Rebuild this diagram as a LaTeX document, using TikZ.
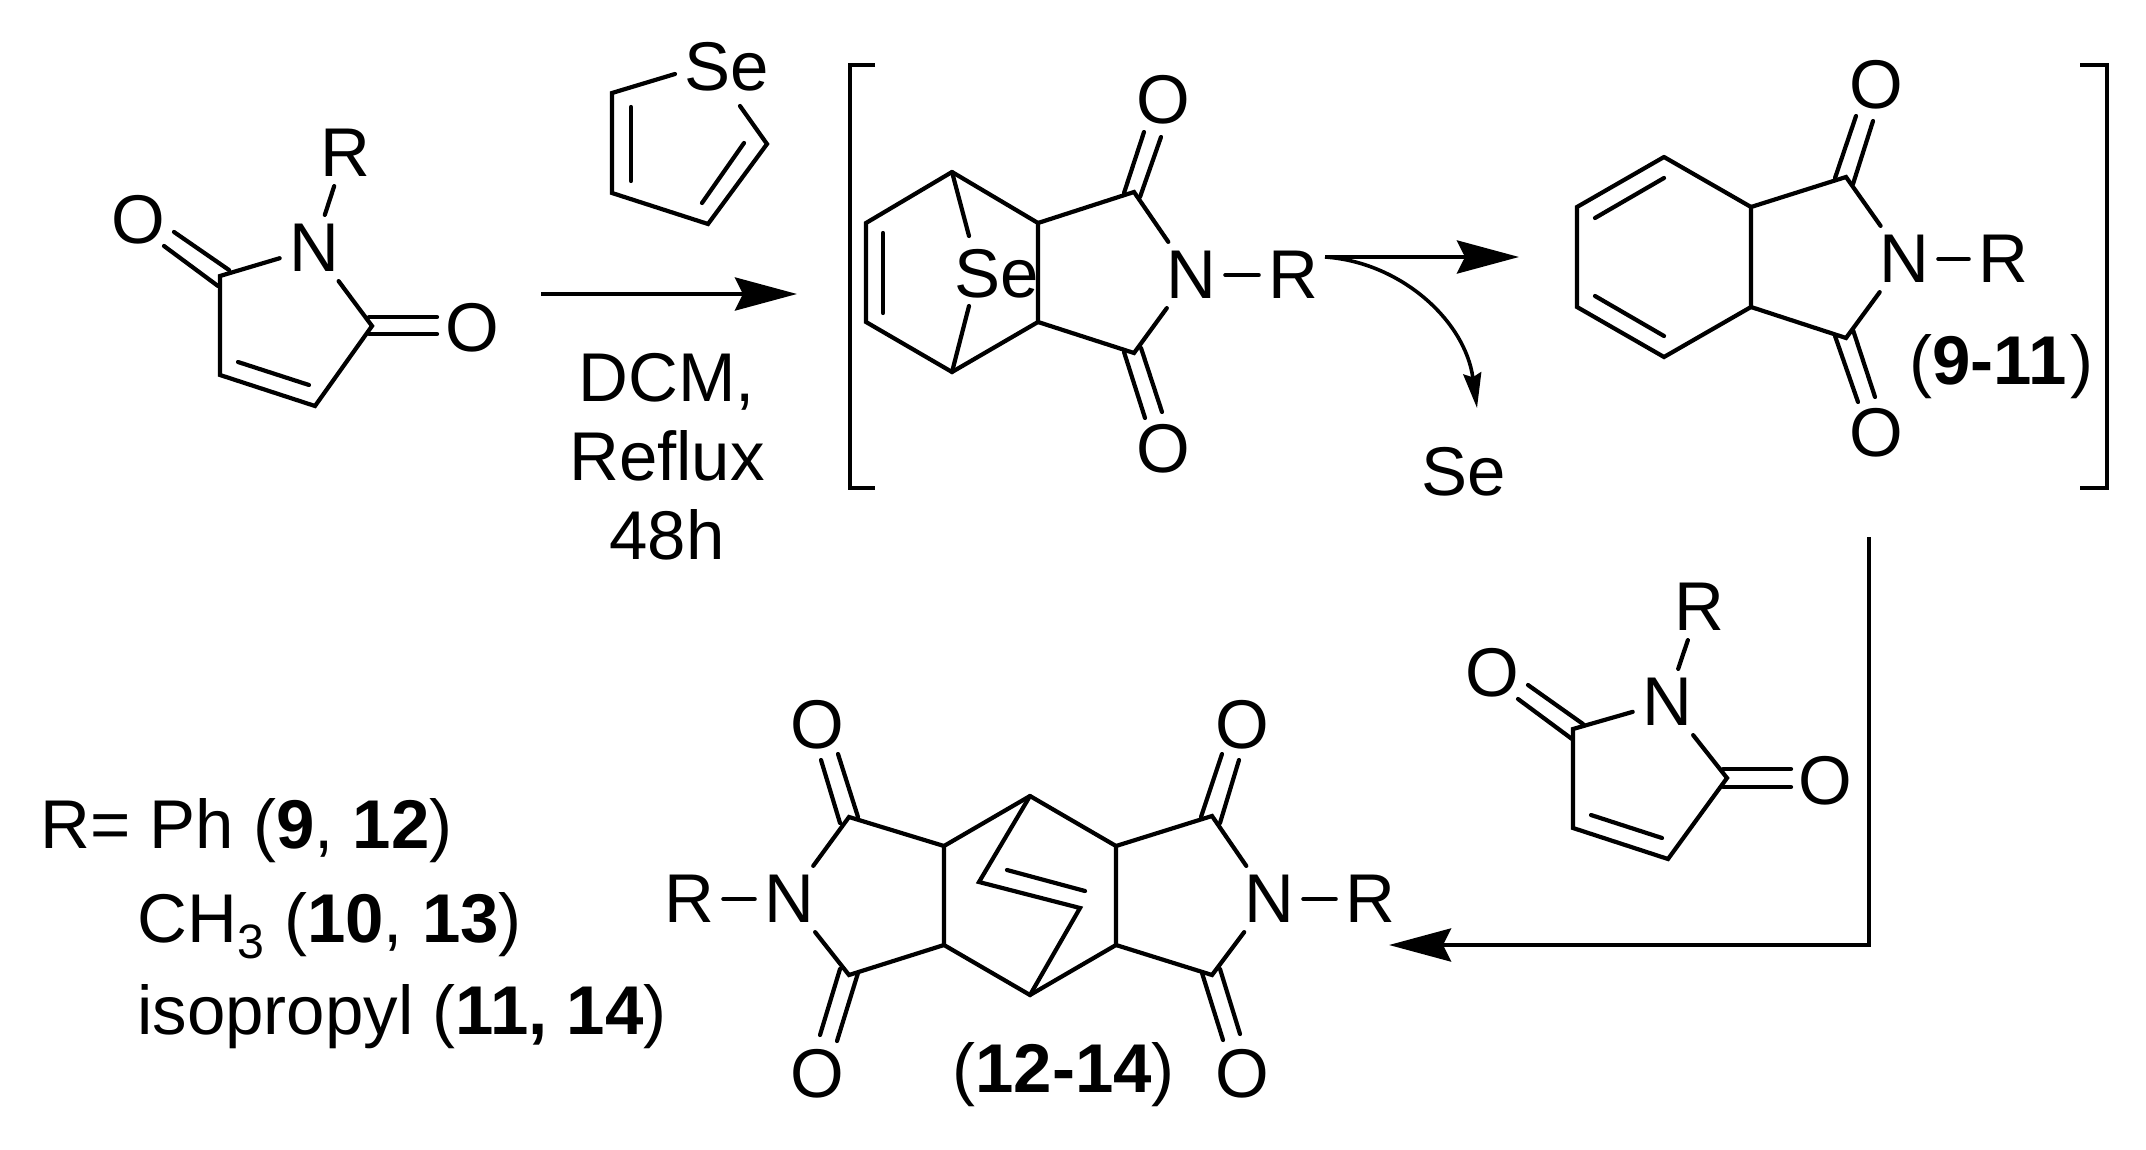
\documentclass[tikz,border=0pt]{standalone}
\usepackage{fontspec}
\setmainfont{Liberation Sans}
\usepackage{tikz}
\usetikzlibrary{arrows.meta,positioning,calc}

\tikzset{
atom/.style={inner sep=4.5pt,font=\fontsize{34.5}{38}\selectfont},
caption/.style={inner sep=0pt,anchor=base west,font=\fontsize{34.5}{38}\selectfont},
bond/.style={line width=2.1pt,line cap=round,line join=miter},
bracket/.style={line width=2.1pt,line join=miter},
bigarrow/.style={line width=2.2pt,-{Stealth[length=31pt,width=16.5pt,inset=4pt]}},
smallarrow/.style={line width=1.8pt,-{Stealth[length=17.5pt,width=9pt,inset=2pt]}}
}
% one line of a double bond, with its two ends named
\newcommand{\inner}[3]{\coordinate (#1a) at (#2); \coordinate (#1b) at (#3); \draw[bond] (#1a) -- (#1b);}

\begin{document}
\begin{tikzpicture}[x=0.5pt,y=-0.5pt]
\useasboundingbox (0,0) rectangle (2146,1150);

% maleimide, top left
\node[atom] (n1) at (314,248) {N};
\node[atom] (r1) at (345,153) {R};
\node[atom] (o1) at (138,220) {O};
\node[atom] (o2) at (472,328) {O};
\coordinate (c1) at (220,276);
\coordinate (c2) at (372,326);
\coordinate (c3) at (315,406);
\coordinate (c4) at (220,375);
\draw[bond] (n1) -- (c1) -- (c4) -- (c3) -- (c2) -- (n1);
\draw[bond] (n1) -- (r1);
\inner{d1}{238,362}{309,385}
\inner{d2}{174,232}{229,270}
\inner{d3}{164,246}{218,286}
\inner{d4}{369,317}{437,317}
\inner{d5}{369,334}{437,334}

% selenophene
\node[atom] (se1) at (727,67) {Se};
\coordinate (s1) at (612,93);
\coordinate (s2) at (612,193);
\coordinate (s3) at (708,224);
\coordinate (s4) at (767,144);
\coordinate (se1a) at (675,74);
\coordinate (se1b) at (740,106);
\draw[bond] (se1a) -- (s1) -- (s2) -- (s3) -- (s4) -- (se1b);
\inner{d6}{631,107}{631,181}
\inner{d7}{744,143}{702,203}

% first arrow and conditions
\coordinate (a1) at (541,294);
\coordinate (a2) at (797,294);
\draw[bigarrow] (a1) -- (a2);
\node[caption,anchor=base] (dcm) at (667,401) {DCM,};
\node[caption,anchor=base] (reflux) at (667,480) {Reflux};
\node[caption,anchor=base] (time) at (667,559) {48h};

% brackets
\coordinate (b1) at (875,65);
\coordinate (b2) at (850,65);
\coordinate (b3) at (850,488);
\coordinate (b4) at (875,488);
\coordinate (b5) at (2080,65);
\coordinate (b6) at (2107,65);
\coordinate (b7) at (2107,488);
\coordinate (b8) at (2080,488);
\draw[bracket] (b1) -- (b2) -- (b3) -- (b4);
\draw[bracket] (b5) -- (b6) -- (b7) -- (b8);

% selenium bridged adduct
\coordinate (h1) at (952,172);
\coordinate (h2) at (866,223);
\coordinate (h3) at (866,322);
\coordinate (h4) at (952,372);
\coordinate (h5) at (1038,322);
\coordinate (h6) at (1038,223);
\coordinate (h7) at (1134,192);
\coordinate (h8) at (1134,353);
\node[atom] (se2) at (997,274) {Se};
\node[atom] (n2) at (1191,275) {N};
\node[atom] (r2) at (1293,275) {R};
\node[atom] (o3) at (1163,100) {O};
\node[atom] (o4) at (1163,449) {O};
\coordinate (se2a) at (969,236);
\coordinate (se2b) at (969,306);
\draw[bond] (h1) -- (h2) -- (h3) -- (h4) -- (h5) -- (h6) -- (h1);
\draw[bond] (h1) -- (se2a);
\draw[bond] (h4) -- (se2b);
\draw[bond] (h6) -- (h7) -- (n2) -- (h8) -- (h5);
\draw[bond] (n2) -- (r2);
\inner{d8}{883,233}{883,313}
\inner{d9}{1144,132}{1124,193}
\inner{d10}{1161,137}{1140,197}
\inner{d11}{1124,352}{1145,418}
\inner{d12}{1141,348}{1162,412}

% loss of selenium
\coordinate (a3) at (1325,257);
\coordinate (a4) at (1519,257);
\coordinate (a5) at (1477,408);
\draw[bigarrow] (a3) -- (a4);
\draw[smallarrow] (a3) .. controls (1400,262) and (1465,320) .. (a5);
\node[atom] (se3) at (1464,472) {Se};

% diene
\coordinate (k1) at (1664,157);
\coordinate (k2) at (1577,207);
\coordinate (k3) at (1577,307);
\coordinate (k4) at (1664,357);
\coordinate (k5) at (1751,307);
\coordinate (k6) at (1751,207);
\coordinate (k7) at (1846,177);
\coordinate (k8) at (1846,338);
\node[atom] (n3) at (1904,259) {N};
\node[atom] (r3) at (2003,259) {R};
\node[atom] (o5) at (1876,85) {O};
\node[atom] (o6) at (1876,433) {O};
\draw[bond] (k1) -- (k2) -- (k3) -- (k4) -- (k5) -- (k6) -- (k1);
\draw[bond] (k6) -- (k7) -- (n3) -- (k8) -- (k5);
\draw[bond] (n3) -- (r3);
\inner{d13}{1595,218}{1664,178}
\inner{d14}{1595,296}{1664,336}
\inner{d15}{1856,116}{1835,178}
\inner{d16}{1873,121}{1853,184}
\inner{d17}{1835,336}{1858,402}
\inner{d18}{1853,330}{1875,397}
\node[caption] (lab1) at (1909,384) {(\textbf{9-11}\hspace{2pt})};

% second maleimide
\node[atom] (n4) at (1667,702) {N};
\node[atom] (r4) at (1699,607) {R};
\node[atom] (o7) at (1492,673) {O};
\node[atom] (o8) at (1825,781) {O};
\coordinate (m1) at (1573,729);
\coordinate (m2) at (1727,778);
\coordinate (m3) at (1668,859);
\coordinate (m4) at (1573,828);
\draw[bond] (n4) -- (m1) -- (m4) -- (m3) -- (m2) -- (n4);
\draw[bond] (n4) -- (r4);
\inner{d19}{1591,815}{1662,838}
\inner{d20}{1528,685}{1583,724}
\inner{d21}{1518,699}{1572,739}
\inner{d22}{1723,769}{1791,769}
\inner{d23}{1723,787}{1791,787}

% last arrow
\coordinate (a6) at (1869,537);
\coordinate (a7) at (1869,945);
\coordinate (a8) at (1389,945);
\draw[bigarrow] (a6) -- (a7) -- (a8);

% bis adduct
\coordinate (p1) at (1030,796);
\coordinate (p2) at (944,846);
\coordinate (p3) at (944,945);
\coordinate (p4) at (1030,995);
\coordinate (p5) at (1116,945);
\coordinate (p6) at (1116,846);
\coordinate (p7) at (979,882);
\coordinate (p8) at (1080,908);
\coordinate (p9) at (849,817);
\coordinate (p10) at (849,975);
\coordinate (p11) at (1212,816);
\coordinate (p12) at (1212,975);
\node[atom] (n5) at (789,899) {N};
\node[atom] (r5) at (689,899) {R};
\node[atom] (n6) at (1269,899) {N};
\node[atom] (r6) at (1370,899) {R};
\node[atom] (o9) at (817,725) {O};
\node[atom] (o10) at (817,1074) {O};
\node[atom] (o11) at (1242,725) {O};
\node[atom] (o12) at (1242,1074) {O};
\draw[bond] (p1) -- (p2) -- (p3) -- (p4) -- (p5) -- (p6) -- (p1);
\draw[bond] (p1) -- (p7) -- (p8) -- (p4);
\draw[bond] (p2) -- (p9) -- (n5) -- (p10) -- (p3);
\draw[bond] (p6) -- (p11) -- (n6) -- (p12) -- (p5);
\draw[bond] (n5) -- (r5);
\draw[bond] (n6) -- (r6);
\inner{d24}{1007,870}{1085,891}
\inner{d25}{821,760}{840,823}
\inner{d26}{838,754}{858,817}
\inner{d27}{840,969}{820,1035}
\inner{d28}{858,973}{837,1041}
\inner{d29}{1222,754}{1201,817}
\inner{d30}{1239,760}{1220,823}
\inner{d31}{1202,973}{1223,1040}
\inner{d32}{1220,969}{1240,1034}
\node[caption] (lab2) at (952,1092) {(\textbf{12-14})};

% key to R
\node[caption] (key1) at (40,848) {R= Ph (\textbf{9}, \textbf{12})};
\node[caption] (key2) at (137,942) {CH\textsubscript{3} (\textbf{10}, \textbf{13})};
\node[caption] (key3) at (137,1034) {isopropyl (\textbf{11, 14})};
\end{tikzpicture}
\end{document}
